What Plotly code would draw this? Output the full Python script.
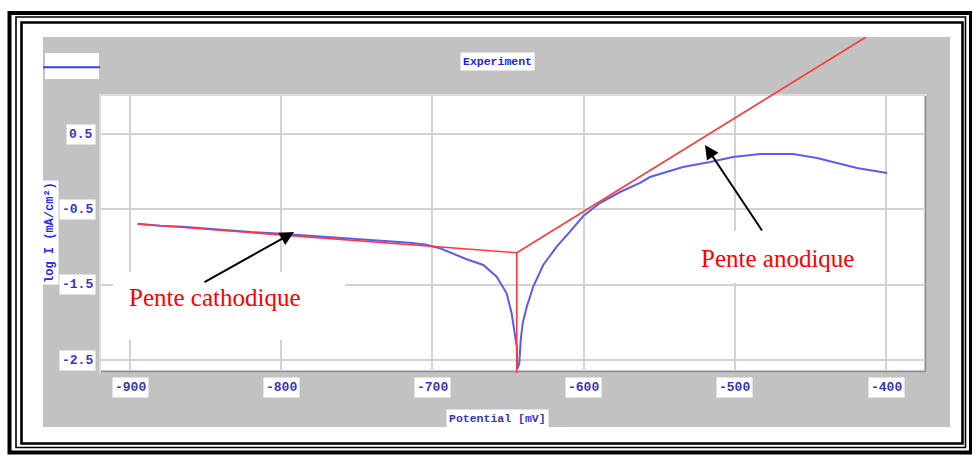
import plotly.graph_objects as go

# ---------------- data ----------------
potential_mv = [-895, -880, -865, -850, -835, -820, -805, -790, -775, -760, -745, -730,
                -715, -705, -695, -677.3, -666.3, -657.5, -650.9, -647.6, -645.4, -644.2,
                -643.8, -642.5, -641.6, -640.3, -637.6, -633.3, -626.7, -617.8, -609.0,
                -600.2, -589.2, -575.9, -562.7, -556.1, -534.3, -516.4, -501.2, -483.3,
                -461.5, -445.6, -432.4, -419.2, -399.3]
log_current = [-0.69, -0.717, -0.732, -0.757, -0.776, -0.802, -0.818, -0.839, -0.858, -0.883,
               -0.899, -0.924, -0.943, -0.968, -1.017, -1.163, -1.239, -1.394, -1.615, -1.880,
               -2.142, -2.324, -2.62, -2.544, -2.235, -2.013, -1.793, -1.527, -1.239, -0.996,
               -0.797, -0.589, -0.416, -0.270, -0.150, -0.071, 0.062, 0.128, 0.195, 0.235,
               0.235, 0.181, 0.115, 0.049, -0.018]

tafel_mv = [-895, -644.2, -644.2, -644.2, -413.2]
tafel_log = [-0.695, -1.076, -2.673, -1.076, 1.788]

x_ticks = [-900, -800, -700, -600, -500, -400]
x_tick_labels = ["-900", "-800", "-700", "-600", "-500", "-400"]
y_ticks = [0.5, -0.5, -1.5, -2.5]
y_tick_labels = ["0.5", "-0.5", "-1.5", "-2.5"]

series_name = "Experiment"
x_title = "Potential [mV]"
y_title = "log I (mA/cm²)"
label_cath = "Pente cathodique"
label_anod = "Pente anodique"

# ---------------- layout helpers (pixels) ----------------
W, H = 972, 455


def px(x):
    return x / W


def py(y):
    return 1 - y / H


# pixel calibration of the axes
def xv(p):
    return -900 + (p - 130) * 500 / 756


def yv(p):
    return 0.5 - (p - 134) * 3 / 226


PLOT = (101, 96, 925, 371)   # left, top, right, bottom
PANEL = (43, 37, 950, 427)

TICK_COLOR = "#3434c8"
MONO = "Liberation Mono, DejaVu Sans Mono, monospace"
SERIF = "Liberation Serif, Times New Roman, serif"

fig = go.Figure()

fig.add_trace(go.Scatter(
    x=potential_mv, y=log_current, mode="lines", name=series_name,
    line=dict(color="#5c5cf0", width=2), xaxis="x", yaxis="y", showlegend=False,
    hoverinfo="skip"))

fig.add_trace(go.Scatter(
    x=tafel_mv, y=tafel_log, mode="lines", name="Tafel",
    line=dict(color="#ff3a3a", width=1.6), xaxis="x2", yaxis="y2", showlegend=False,
    hoverinfo="skip"))

shapes = []


def rect(x0, y0, x1, y1, fill=None, line_color=None, width=0, layer="below"):
    shapes.append(dict(type="rect", xref="paper", yref="paper",
                       x0=px(x0), x1=px(x1), y0=py(y1), y1=py(y0),
                       fillcolor=fill if fill else "rgba(0,0,0,0)",
                       line=dict(color=line_color if line_color else "rgba(0,0,0,0)",
                                 width=width),
                       layer=layer))


def seg(x0, y0, x1, y1, color, width, layer="below"):
    shapes.append(dict(type="line", xref="paper", yref="paper",
                       x0=px(x0), x1=px(x1), y0=py(y0), y1=py(y1),
                       line=dict(color=color, width=width), layer=layer))


# outer frame
rect(9.5, 13, 971, 452.5, line_color="black", width=4)
rect(16, 17, 965.5, 447.5, line_color="black", width=1.6)
rect(21.5, 22.5, 962.5, 443.5, line_color="black", width=2.6)

# gray panel and plot area
rect(*PANEL, fill="#c2c2c2")
rect(PLOT[0] - 1, PLOT[1] - 1, PLOT[2] + 1, PLOT[3] + 1, fill="#ffffff",
     line_color="#dcdcdc", width=2)
seg(PLOT[0], PLOT[3] + 0.5, PLOT[2] + 1, PLOT[3] + 0.5, "#8e8e8e", 2)
seg(PLOT[2] + 0.5, PLOT[1], PLOT[2] + 0.5, PLOT[3] + 1, "#8e8e8e", 2)

# legend box
rect(45, 53, 99, 79, fill="#ffffff")
seg(43, 67.3, 100, 67.3, "#3a3aff", 2)

# white boxes behind the annotations
rect(113, 272, 345, 340, fill="#ffffff", layer="above")
rect(685, 231, 883, 283, fill="#ffffff", layer="above")

annotations = []


def label(x, y, text, font, xref="paper", yref="paper", **kw):
    d = dict(x=x, y=y, xref=xref, yref=yref, text=text, showarrow=False,
             xanchor="center", yanchor="middle", font=font)
    d.update(kw)
    annotations.append(d)


# y axis title (drawn first so tick label boxes sit above it)
label(px(50.5), py(232.5), "<b>%s</b>" % y_title,
      dict(family=MONO, size=12, color="#2a2aee"),
      textangle=-90, bgcolor="#ffffff", borderpad=1)

# tick labels
for v, t in zip(x_ticks, x_tick_labels):
    label(v, py(387.5), "<b>%s</b>" % t, dict(family=MONO, size=13, color=TICK_COLOR),
          xref="x", bgcolor="#ffffff", borderpad=2)
for v, t in zip(y_ticks, y_tick_labels):
    label(px(96), v, "<b>%s</b>" % t, dict(family=MONO, size=13, color=TICK_COLOR),
          yref="y", xanchor="right", bgcolor="#ffffff", borderpad=2)

# titles
label(px(497.5), py(62), "<b>%s</b>" % series_name,
      dict(family=MONO, size=11.5, color="#2222ee"), bgcolor="#ffffff", borderpad=2)
label(px(497), py(418), "<b>%s</b>" % x_title,
      dict(family=MONO, size=11.5, color=TICK_COLOR), bgcolor="#ffffff", borderpad=2)

# slope labels
label(px(214.7), py(297), label_cath, dict(family=SERIF, size=25, color="#ff0000"))
label(px(777), py(258), label_anod, dict(family=SERIF, size=25, color="#ff0000"))


def arrow(hx, hy, tx, ty):
    annotations.append(dict(x=px(hx), y=py(hy), xref="paper", yref="paper",
                            ax=tx - hx, ay=ty - hy, axref="pixel", ayref="pixel",
                            text="", showarrow=True, arrowhead=2, arrowsize=1.4,
                            arrowwidth=2, arrowcolor="#000000", standoff=0))


arrow(294, 232, 203, 283)
arrow(705, 145, 763, 232)

fig.update_layout(
    width=W, height=H, autosize=False,
    margin=dict(l=0, r=0, t=0, b=0),
    paper_bgcolor="#ffffff", plot_bgcolor="rgba(0,0,0,0)",
    showlegend=False,
    xaxis=dict(domain=[px(PLOT[0]), px(PLOT[2])], range=[xv(PLOT[0]), xv(PLOT[2])],
               tickvals=x_ticks, showticklabels=False, ticks="",
               showgrid=True, gridcolor="#d2d2d2", gridwidth=1.5,
               zeroline=False, showline=False, anchor="y", fixedrange=True),
    yaxis=dict(domain=[py(PLOT[3]), py(PLOT[1])], range=[yv(PLOT[3]), yv(PLOT[1])],
               tickvals=y_ticks, showticklabels=False, ticks="",
               showgrid=True, gridcolor="#d2d2d2", gridwidth=1.5,
               zeroline=False, showline=False, anchor="x", fixedrange=True),
    xaxis2=dict(domain=[px(PANEL[0]), px(PANEL[2])], range=[xv(PANEL[0]), xv(PANEL[2])],
                visible=False, anchor="y2", fixedrange=True),
    yaxis2=dict(domain=[py(PANEL[3]), py(PANEL[1])], range=[yv(PANEL[3]), yv(PANEL[1])],
                visible=False, anchor="x2", fixedrange=True),
    shapes=shapes,
    annotations=annotations,
)

fig.write_html("out.html", config={"displayModeBar": False},
               post_script="document.body.style.margin='0';"
                           "document.body.style.overflow='hidden';")
